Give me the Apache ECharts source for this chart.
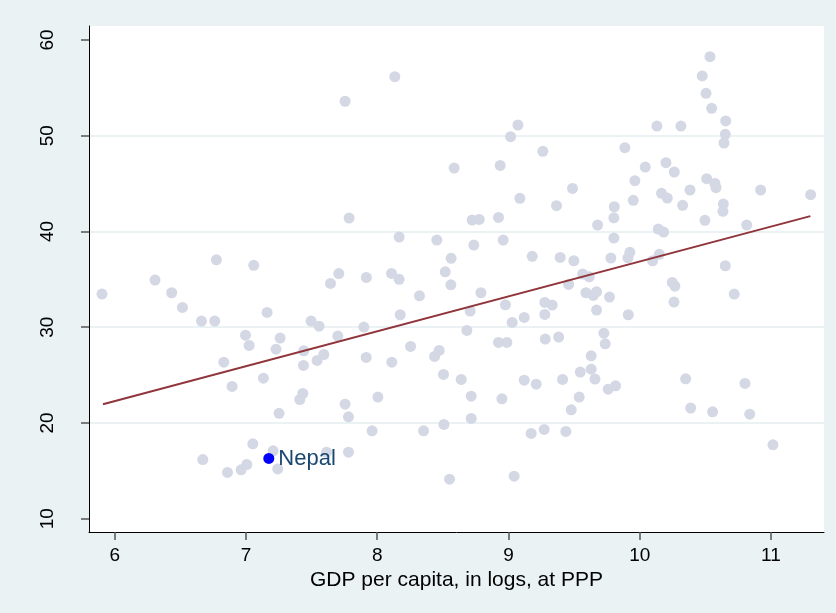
<!DOCTYPE html>
<html>
<head>
<meta charset="utf-8">
<script src="https://cdn.jsdelivr.net/npm/echarts@6/dist/echarts.min.js"></script>
<style>
  html, body { margin: 0; padding: 0; background: #eaf2f3; }
  #chart { width: 836px; height: 613px; }
</style>
</head>
<body>
<div id="chart"></div>
<script>
// log GDP per capita (x) and score (y) for each country
const gdpLog = [
  7.755, 7.786, 6.775, 7.059, 7.707, 5.903, 6.307, 6.434, 6.516, 6.661,
  6.762, 7.644, 7.161, 7.496, 7.557, 6.996, 7.024, 7.260, 7.229, 7.700,
  7.440, 7.438, 7.593, 7.542, 6.831, 7.133, 6.894, 7.433, 7.410, 7.252,
  7.755, 7.781, 7.052, 7.207, 7.614, 7.781, 6.671, 6.859, 6.963, 7.006,
  7.242, 8.134, 8.586, 8.937, 9.072, 9.016, 9.262, 9.087, 9.488, 9.366,
  8.167, 8.454, 8.723, 8.777, 8.924, 8.736, 8.960, 8.563, 9.181, 9.394,
  9.498, 8.518, 8.109, 7.917, 8.167, 8.561, 8.322, 8.790, 8.175, 7.898,
  8.708, 8.683, 8.977, 9.028, 9.120, 9.277, 9.333, 9.277, 9.458, 9.565,
  9.590, 8.924, 8.988, 9.280, 9.382, 8.254, 7.916, 8.111, 8.437, 8.472,
  8.505, 8.640, 8.716, 8.950, 9.120, 9.211, 9.412, 9.547, 9.539, 9.478,
  8.005, 7.961, 8.353, 8.508, 8.716, 9.173, 9.272, 9.437, 8.551, 9.043,
  10.535, 10.476, 10.505, 10.548, 10.655, 10.652, 10.642, 10.131, 10.314, 9.887,
  10.042, 10.200, 10.263, 9.963, 10.510, 10.573, 10.581, 10.383, 10.921, 11.302,
  10.166, 10.210, 9.951, 10.327, 10.637, 10.634, 9.806, 9.803, 9.679, 10.497,
  10.815, 10.141, 10.182, 9.803, 9.925, 9.910, 10.149, 10.098, 9.780, 10.652,
  9.615, 9.646, 9.671, 9.770, 9.671, 9.913, 10.248, 10.268, 10.261, 10.720,
  9.727, 9.737, 9.630, 9.630, 9.659, 9.760, 9.816, 10.350, 10.802, 10.388,
  10.555, 10.838, 11.015
];
const score = [
  53.6, 41.4, 37.04, 36.46, 35.6, 33.46, 34.92, 33.6, 32.07, 30.64,
  30.64, 34.57, 31.54, 30.64, 30.11, 29.17, 28.1, 28.86, 27.71, 29.07,
  27.54, 26.01, 27.15, 26.53, 26.35, 24.68, 23.81, 23.08, 22.45, 21.0,
  21.96, 20.64, 17.82, 17.09, 16.95, 16.95, 16.18, 14.83, 15.1, 15.66,
  15.2, 56.17, 46.62, 46.9, 51.12, 49.9, 48.37, 43.46, 44.5, 42.69,
  39.41, 39.1, 41.19, 41.26, 41.47, 38.58, 39.1, 37.19, 37.4, 37.29,
  36.94, 35.79, 35.62, 35.2, 35.0, 34.43, 33.28, 33.6, 31.3, 30.01,
  31.68, 29.66, 32.34, 30.5, 31.02, 32.59, 32.31, 31.34, 34.47, 35.55,
  33.6, 28.41, 28.41, 28.76, 28.97, 27.99, 26.84, 26.35, 26.95, 27.57,
  25.07, 24.55, 22.8, 22.52, 24.47, 24.05, 24.55, 25.31, 22.7, 21.37,
  22.7, 19.18, 19.18, 19.84, 20.47, 18.9, 19.32, 19.11, 14.13, 14.44,
  58.26, 56.24, 54.43, 52.86, 51.54, 50.15, 49.24, 51.01, 51.01, 48.75,
  46.73, 47.18, 46.21, 45.3, 45.51, 45.02, 44.57, 44.33, 44.33, 43.84,
  43.98, 43.49, 43.25, 42.73, 42.86, 42.1, 42.58, 41.43, 40.67, 41.16,
  40.67, 40.25, 39.94, 39.31, 37.82, 37.25, 37.61, 36.94, 37.22, 36.42,
  35.27, 33.32, 33.7, 33.15, 31.79, 31.3, 34.68, 34.29, 32.62, 33.46,
  29.38, 28.27, 27.01, 25.62, 24.58, 23.53, 23.88, 24.61, 24.13, 21.55,
  21.16, 20.92, 17.71
];

const nepal = { name: 'Nepal', x: 7.174, y: 16.29 };

// fitted line end points
const fitX = [5.91, 11.30];
const fitY = [21.95, 41.6];

const xTicks = [6, 7, 8, 9, 10, 11];
const yTicks = [10, 20, 30, 40, 50, 60];

const font = "'Liberation Sans', Arial, sans-serif";
const chart = echarts.init(document.getElementById('chart'));

chart.setOption({
  animation: false,
  backgroundColor: '#eaf2f3',
  grid: {
    left: 89, right: 12, top: 26, bottom: 81,
    show: true, backgroundColor: '#ffffff', borderWidth: 0
  },
  xAxis: {
    type: 'value',
    min: 5.804, max: 11.404,
    name: 'GDP per capita, in logs, at PPP',
    nameLocation: 'middle',
    nameGap: 38,
    nameTextStyle: { fontFamily: font, fontSize: 21, color: '#000' },
    axisLine: { lineStyle: { color: '#000', width: 1 } },
    axisTick: { customValues: xTicks, length: 8, lineStyle: { color: '#555', width: 1.5 } },
    axisLabel: { customValues: xTicks, margin: 14, fontFamily: font, fontSize: 19, color: '#000' },
    splitLine: { show: false }
  },
  yAxis: {
    type: 'value',
    min: 8.61, max: 61.46,
    axisLine: { show: true, lineStyle: { color: '#000', width: 1 } },
    axisTick: { show: true, customValues: yTicks, length: 8, lineStyle: { color: '#555', width: 1.5 } },
    axisLabel: { customValues: yTicks, rotate: 90, margin: 32, fontFamily: font, fontSize: 19, color: '#000' },
    splitLine: { show: true, showMinLine: false, showMaxLine: false, lineStyle: { color: '#eaf2f3', width: 2 } }
  },
  series: [
    {
      type: 'scatter',
      data: gdpLog.map((x, i) => [x, score[i]]),
      symbolSize: 11,
      itemStyle: { color: '#d4d8e4', opacity: 1 },
      z: 2
    },
    {
      type: 'line',
      data: fitX.map((x, i) => [x, fitY[i]]),
      showSymbol: false,
      symbol: 'none',
      lineStyle: { color: '#90353b', width: 2 },
      z: 3
    },
    {
      type: 'scatter',
      data: [[nepal.x, nepal.y]],
      symbolSize: 11,
      itemStyle: { color: '#0000ff', opacity: 1 },
      label: {
        show: true,
        position: 'right',
        distance: 4,
        formatter: nepal.name,
        fontFamily: font,
        fontSize: 22,
        color: '#1a476f',
        opacity: 1
      },
      z: 4
    }
  ]
});
</script>
</body>
</html>
